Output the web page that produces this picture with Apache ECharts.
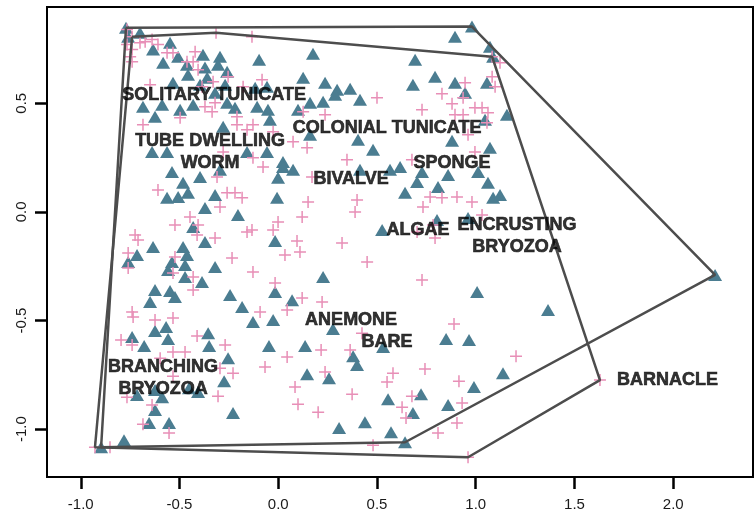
<!DOCTYPE html>
<html>
<head>
<meta charset="utf-8">
<script src="https://cdn.jsdelivr.net/npm/echarts@6/dist/echarts.min.js"></script>
<style>
html,body{margin:0;padding:0;background:#fff;}
#chart{width:754px;height:514px;}
</style>
</head>
<body>
<div id="chart"></div>
<script>
// Triangle sites (x, y)
const triangleSites = [
[-0.760,0.806],[-0.700,0.825],[-0.634,0.747],[-0.548,0.779],[-0.583,0.687],[-0.507,0.714],[-0.462,0.677],[-0.457,0.631],[-0.381,0.723],[-0.371,0.664],[-0.360,0.617],[-0.295,0.714],[-0.305,0.677],[-0.259,0.645],[-0.533,0.594],[-0.396,0.585],[-0.269,0.585],[-0.320,0.548],[-0.588,0.493],[-0.497,0.470],[-0.431,0.493],[-0.259,0.502],[-0.219,0.479],[-0.624,0.438],[-0.279,0.392],[-0.639,0.276],[-0.563,0.276],[-0.158,0.276],[-0.685,0.484],[-0.771,0.848],
[-0.097,0.700],[0.176,0.728],[0.126,0.617],[0.237,0.594],[0.298,0.562],[0.364,0.567],[0.288,0.539],[0.227,0.507],[0.161,0.502],[0.414,0.516],[-0.117,0.571],[-0.057,0.576],[-0.107,0.484],[-0.052,0.470],[-0.042,0.424],[0.100,0.470],[0.161,0.355],[0.404,0.332],[0.480,0.286],[-0.057,0.276],[0.024,0.230],
[0.981,0.853],[0.895,0.806],[1.072,0.760],[1.088,0.714],[0.693,0.700],[0.794,0.622],[0.682,0.585],[0.895,0.594],[1.057,0.594],[0.946,0.548],[1.158,0.447],[1.047,0.424],[0.880,0.327],[1.072,0.295],
[-0.538,0.184],[-0.396,0.161],[-0.295,0.194],[-0.482,0.134],[-0.563,0.065],[-0.507,0.069],[-0.457,0.088],[-0.320,0.078],[-0.371,0.018],[-0.204,-0.014],[-0.431,-0.069],[-0.371,-0.138],[-0.634,-0.161],[-0.482,-0.161],[-0.462,-0.198],[-0.715,-0.198],[-0.760,-0.230],[-0.538,-0.230],[-0.472,-0.244],[-0.558,-0.267],[-0.320,-0.253],[-0.472,-0.300],[-0.386,-0.323],[-0.624,-0.359],[-0.548,-0.364],[-0.523,-0.392],[-0.649,-0.415],[-0.244,-0.382],[-0.183,-0.438],
[-0.001,0.157],[0.024,0.207],[0.075,0.194],[0.414,0.194],[0.566,0.194],[0.617,0.207],[0.642,0.088],[-0.006,0.065],[0.526,-0.083],[-0.016,-0.134],[0.227,-0.300],[-0.016,-0.369],[0.070,-0.406],
[0.728,0.184],[0.860,0.170],[1.012,0.184],[0.703,0.138],[0.809,0.115],[1.062,0.134],[1.088,0.065],[1.123,0.078],[0.804,-0.037],[0.961,-0.028],[1.007,-0.369],[1.366,-0.452],
[-0.128,-0.507],[-0.740,-0.576],[-0.624,-0.548],[-0.568,-0.530],[-0.558,-0.585],[-0.679,-0.617],[-0.355,-0.558],[-0.350,-0.617],[-0.254,-0.673],[-0.274,-0.779],[-0.624,-0.820],[-0.715,-0.843],[-0.588,-0.853],[-0.406,-0.829],[-0.452,-0.811],[-0.624,-0.912],[-0.654,-0.972],[-0.553,-0.972],[-0.229,-0.926],[-0.781,-1.051],[-0.897,-1.083],
[-0.026,-0.498],[0.277,-0.539],[-0.047,-0.617],[0.136,-0.617],[0.379,-0.664],[0.399,-0.705],[0.531,-0.622],[0.146,-0.747],[0.257,-0.765],[0.556,-0.862],[0.723,-0.839],[0.682,-0.926],[0.308,-0.995],[0.439,-0.968],[0.571,-1.014],[0.642,-1.060],[0.850,-0.585],[0.966,-0.590],[0.860,-0.889],[0.991,-0.806],[1.138,-0.742],[2.212,-0.290]
];

// Plus sites (x, y)
const plusSites = [
[-0.766,0.839],[-0.740,0.806],[-0.766,0.770],[-0.740,0.747],[-0.750,0.714],[-0.740,0.691],[-0.700,0.779],[-0.674,0.783],[-0.639,0.793],[-0.609,0.770],[-0.563,0.733],[-0.533,0.733],[-0.462,0.691],[-0.431,0.691],[-0.421,0.737],[-0.406,0.654],[-0.254,0.622],[-0.330,0.599],[-0.649,0.585],[-0.386,0.576],[-0.178,0.576],[-0.371,0.484],[-0.335,0.461],[-0.320,0.502],[-0.209,0.438],[-0.685,0.401],[-0.497,0.433],[-0.209,0.401],[-0.158,0.378],[-0.279,0.276],[-0.315,0.825],
[-0.133,0.806],[-0.082,0.608],[0.500,0.525],[0.126,0.461],[0.237,0.447],[0.075,0.323],[0.146,0.295],[-0.128,0.401],[-0.026,0.369],[-0.128,0.249],[0.348,0.240],
[1.083,0.714],[1.123,0.687],[1.083,0.622],[1.098,0.576],[0.946,0.594],[0.829,0.544],[0.936,0.525],[0.880,0.498],[0.728,0.470],[0.895,0.447],[0.936,0.447],[0.996,0.479],[1.032,0.479],[1.062,0.456],[1.057,0.410],[0.961,0.355],[0.996,0.276],[0.677,0.240],
[-0.609,0.101],[-0.310,0.161],[-0.259,0.088],[-0.219,0.088],[-0.183,0.065],[-0.295,0.023],[-0.447,-0.023],[-0.523,-0.060],[-0.406,-0.060],[-0.411,-0.106],[-0.320,-0.120],[-0.725,-0.106],[-0.710,-0.129],[-0.760,-0.189],[-0.760,-0.258],[-0.523,-0.207],[-0.533,-0.281],[-0.431,-0.300],[-0.234,-0.212],[-0.158,-0.092],[-0.431,-0.359],[-0.740,-0.461],
[-0.077,0.207],[0.171,0.161],[0.151,0.046],[0.121,-0.023],[0.399,0.055],[0.389,0.000],[-0.001,-0.046],[-0.133,-0.083],[-0.026,-0.083],[0.095,-0.134],[0.110,-0.184],[0.034,-0.198],[0.323,-0.143],[0.450,-0.230],[-0.128,-0.276],[-0.016,-0.327],[0.121,-0.396],[0.222,-0.415],[-0.092,-0.461],[0.045,-0.452],
[0.769,0.069],[0.829,0.065],[0.905,0.069],[0.981,0.046],[0.733,0.023],[1.032,-0.014],[0.784,-0.060],[0.794,-0.120],[0.703,-0.092],[0.728,-0.313],
[-0.735,-0.484],[-0.624,-0.498],[-0.533,-0.488],[-0.411,-0.571],[-0.269,-0.613],[-0.796,-0.590],[-0.740,-0.613],[-0.472,-0.645],[-0.533,-0.645],[-0.598,-0.673],[-0.295,-0.719],[-0.229,-0.742],[-0.533,-0.756],[-0.766,-0.853],[-0.305,-0.848],[-0.639,-0.889],[-0.685,-0.977],[-0.553,-1.018],[-0.928,-1.083],[-0.852,-1.083],
[0.424,-0.558],[0.217,-0.636],[0.364,-0.636],[0.045,-0.668],[-0.067,-0.714],[0.237,-0.737],[0.581,-0.742],[0.551,-0.783],[0.743,-0.723],[0.890,-0.516],[0.915,-0.779],[0.085,-0.806],[0.374,-0.839],[0.100,-0.885],[0.202,-0.922],[0.677,-0.848],[0.627,-0.899],[0.647,-0.949],[0.931,-0.880],[0.905,-0.972],[0.809,-1.018],[0.480,-1.074],[0.961,-1.129],[1.204,-0.664],[1.629,-0.774]
];

// Convex hull vertices
const triangleHull = [[-0.771,0.848],[0.981,0.853],[2.212,-0.290],[0.642,-1.060],[-0.897,-1.083]];
const plusHull = [[-0.740,0.806],[-0.315,0.825],[1.083,0.714],[1.629,-0.774],[0.961,-1.129],[-0.928,-1.083]];

// Species labels
const labelNames = ['SOLITARY TUNICATE','COLONIAL TUNICATE','TUBE DWELLING\nWORM','SPONGE','BIVALVE','ALGAE','ENCRUSTING\nBRYOZOA','ANEMONE','BARE','BRANCHING\nBRYOZOA','BARNACLE'];
const labelX = [-0.325, 0.551, -0.345, 0.880, 0.369, 0.708, 1.209, 0.369, 0.551, -0.583, 1.971];
const labelY = [0.539, 0.387, 0.276, 0.226, 0.152, -0.083, -0.111, -0.498, -0.599, -0.765, -0.774];

const xTicks = [-1.0, -0.5, 0.0, 0.5, 1.0, 1.5, 2.0];
const yTicks = [-1.0, -0.5, 0.0, 0.5];

const FONT = "'Liberation Sans', Arial, Helvetica, sans-serif";
const chart = echarts.init(document.getElementById('chart'), null, {renderer: 'canvas'});

const closed = h => h.concat([h[0]]);

const option = {
  animation: false,
  backgroundColor: '#ffffff',
  grid: {left: 47, right: 1, top: 7, bottom: 37, show: true, borderColor: '#000', borderWidth: 2, backgroundColor: 'transparent'},
  xAxis: {
    type: 'value', min: -1.171, max: 2.404,
    splitLine: {show: false},
    axisLine: {show: false, onZero: false},
    axisTick: {show: true, customValues: xTicks, length: 12, lineStyle: {color: '#000', width: 2.5}},
    axisLabel: {customValues: xTicks, margin: 20, color: '#1a1a1a', fontSize: 15, fontFamily: FONT,
      formatter: v => v.toFixed(1)}
  },
  yAxis: {
    type: 'value', min: -1.220, max: 0.943,
    splitLine: {show: false},
    axisLine: {show: false, onZero: false},
    axisTick: {show: true, customValues: yTicks, length: 12, lineStyle: {color: '#000', width: 2.5}},
    axisLabel: {customValues: yTicks, margin: 18, rotate: 90, color: '#1a1a1a', fontSize: 15, fontFamily: FONT,
      formatter: v => v.toFixed(1)}
  },
  series: [
    {
      type: 'scatter', data: triangleSites, symbol: 'triangle', symbolSize: [14, 12],
      itemStyle: {color: '#4B7D91', opacity: 1}, z: 2, silent: true
    },
    {
      type: 'scatter', data: plusSites,
      symbol: 'path://M0,5.25H12V6.75H0Z M5.25,0H6.75V12H5.25Z', symbolSize: 12,
      itemStyle: {color: '#E88FB7', opacity: 1}, z: 3, silent: true
    },
    {
      type: 'line', data: closed(triangleHull), symbol: 'none', z: 4, silent: true,
      lineStyle: {color: '#4d4d4d', width: 2.5}
    },
    {
      type: 'line', data: closed(plusHull), symbol: 'none', z: 4, silent: true,
      lineStyle: {color: '#4d4d4d', width: 2.5}
    },
    {
      type: 'scatter', z: 6, silent: true, symbol: 'circle', symbolSize: 1,
      itemStyle: {color: 'rgba(0,0,0,0)'},
      data: labelNames.map((n, i) => ({name: n, value: [labelX[i], labelY[i]]})),
      label: {show: true, position: 'inside', formatter: p => p.name, color: '#000',
        textBorderColor: '#000', textBorderWidth: 0.6,
        fontWeight: 'bold', fontSize: 18, fontFamily: FONT, lineHeight: 22, align: 'center', verticalAlign: 'middle'}
    }
  ]
};
chart.setOption(option);
</script>
</body>
</html>
